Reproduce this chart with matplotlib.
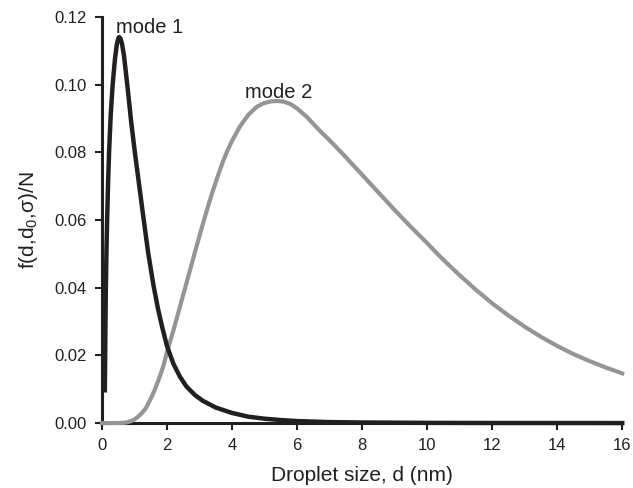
import matplotlib
matplotlib.use("Agg")
import matplotlib.pyplot as plt

plt.rcParams['font.family'] = ['Liberation Sans', 'DejaVu Sans']
plt.rcParams['mathtext.fontset'] = 'custom'
plt.rcParams['mathtext.rm'] = 'Liberation Sans'
plt.rcParams['mathtext.it'] = 'Liberation Sans'

# mode 1 (black)
d1 = [0.09, 0.10, 0.11, 0.12, 0.14, 0.16, 0.19, 0.22, 0.27, 0.33, 0.40, 0.46,
      0.50, 0.53, 0.57, 0.62, 0.68, 0.78, 0.90, 1.02, 1.15, 1.27, 1.42, 1.58,
      1.72, 1.85, 2.0, 2.2, 2.4, 2.6, 2.86, 3.1, 3.5, 4.0, 4.5, 5.0, 5.5, 6.0,
      7.0, 8.0, 10.0, 12.0, 16.0]
f1 = [0.0097, 0.019, 0.030, 0.039, 0.051, 0.060, 0.071, 0.080, 0.091, 0.100,
      0.1075, 0.1120, 0.1136, 0.1141, 0.1137, 0.1120, 0.1085, 0.100, 0.089,
      0.0795, 0.0700, 0.0612, 0.0505, 0.0410, 0.0340, 0.0285, 0.0228, 0.0175,
      0.0137, 0.0108, 0.0083, 0.0066, 0.0046, 0.0030, 0.0019, 0.0013, 0.0009,
      0.0006, 0.0003, 0.00018, 0.00007, 0.00003, 0.00001]

# mode 2 (grey)
d2 = [0.0, 0.3, 0.5, 0.7, 0.8, 0.9, 1.0, 1.1, 1.2, 1.32, 1.4, 1.5, 1.6, 1.7,
      1.8, 1.9, 2.0, 2.1, 2.2, 2.3, 2.4, 2.5, 2.6, 2.7, 2.8, 2.9, 3.0, 3.1,
      3.2, 3.3, 3.4, 3.5, 3.6, 3.73, 3.85, 4.0, 4.24, 4.5, 4.75, 4.96, 5.2,
      5.4, 5.6, 5.8, 6.0, 6.3, 6.7, 7.0, 7.5, 8.0, 8.25, 8.5, 9.0, 9.5, 9.78,
      10.0, 10.4, 11.0, 11.5, 12.0, 12.5, 13.0, 13.5, 14.0, 14.5, 15.0,
      15.5, 16.0]
f2 = [0.0, 0.0, 0.00002, 0.0001, 0.0003, 0.0006, 0.0011, 0.0018, 0.0027,
      0.0040, 0.0053, 0.0072, 0.0093, 0.0117, 0.0143, 0.0172, 0.0210, 0.0242,
      0.0275, 0.0309, 0.0344, 0.0379, 0.0414, 0.0449, 0.0484, 0.0519, 0.0553,
      0.0587, 0.0620, 0.0652, 0.0683, 0.0712, 0.0740, 0.0775, 0.0803, 0.0834,
      0.0876, 0.0911, 0.0934, 0.0945, 0.0951, 0.0952, 0.0950, 0.0943, 0.0930,
      0.0905, 0.0864, 0.0836, 0.0786, 0.0734, 0.0708, 0.0682, 0.0630, 0.0580,
      0.0553, 0.0532, 0.0492, 0.0437, 0.0394, 0.0354, 0.0318, 0.0285, 0.0255,
      0.0228, 0.0204, 0.0183, 0.0164, 0.0147]

xticks = [0, 2, 4, 6, 8, 10, 12, 14, 16]
yticks = [0.00, 0.02, 0.04, 0.06, 0.08, 0.10, 0.12]

fig = plt.figure(figsize=(6.33, 4.88), dpi=100)
ax = fig.add_axes([0.161, 0.133, 0.822, 0.832])

ax.plot(d2, f2, color='#939598', lw=3.0, clip_on=False, zorder=3,
        solid_joinstyle='round')
ax.plot(d1, f1, color='#231f20', lw=3.2, clip_on=False, zorder=4,
        solid_joinstyle='round')

ax.text(0.43, 0.1154, 'mode 1', fontsize=14.5, color='#231f20')
ax.text(4.39, 0.0962, 'mode 2', fontsize=14.5, color='#231f20')

ax.set_xlim(0, 16)
ax.set_ylim(0, 0.12)
ax.set_xticks(xticks)
ax.set_yticks(yticks)
ax.set_yticklabels(['%.2f' % v for v in yticks])

for s in ['top', 'right']:
    ax.spines[s].set_visible(False)
for s in ['left', 'bottom']:
    ax.spines[s].set_linewidth(2.2)
    ax.spines[s].set_color('#231f20')
ax.tick_params(direction='out', length=5, width=1.5, color='#231f20',
               labelsize=12, pad=6, labelcolor='#231f20')

ax.set_xlabel('Droplet size, d (nm)', fontsize=15, labelpad=9, color='#231f20')
ax.set_ylabel('f(d,d$_0$,σ)/N', fontsize=15, labelpad=10, color='#231f20')

fig.savefig('out.png', dpi=100)
